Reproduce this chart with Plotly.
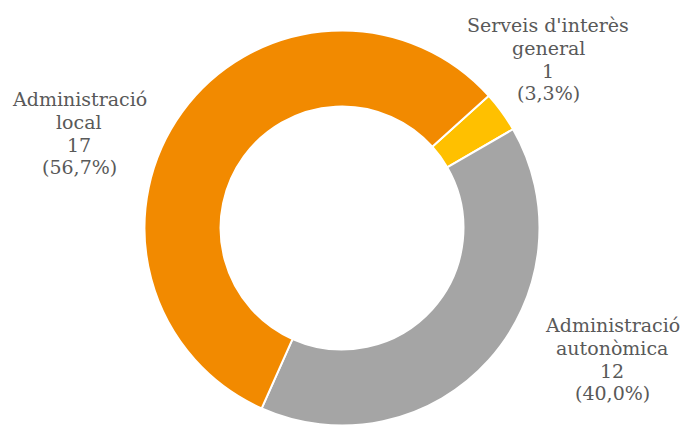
import plotly.graph_objects as go

categories = ["Serveis d'interès general", "Administració autonòmica", "Administració local"]
label_lines = [["Serveis d'interès", "general"], ["Administració", "autonòmica"], ["Administració", "local"]]
values = [1, 12, 17]
colors = ["#FFC000", "#A5A5A5", "#F28A00"]

total = sum(values)
W, H = 683, 426


def px_x(x):
    return x / W


def px_y(y):
    return 1 - y / H


cx, cy, R = 342, 228, 197.5
fig = go.Figure(go.Pie(
    labels=categories,
    values=values,
    sort=False,
    direction="clockwise",
    rotation=48,
    hole=0.615,
    marker=dict(colors=colors, line=dict(color="white", width=2)),
    textinfo="none",
    hoverinfo="label+value+percent",
    domain=dict(x=[px_x(cx - R), px_x(cx + R)], y=[max(0, px_y(cy + R)), px_y(cy - R)]),
    showlegend=False,
))

# label anchor positions (pixels: center-x, first baseline)
label_pos = [(548, 31), (612, 331), (79, 105)]
LINE = 22.7
FS = 19
for lines, v, (px, py) in zip(label_lines, values, label_pos):
    pct = f"({v / total * 100:.1f}%)".replace(".", ",")
    all_lines = lines + [str(v), pct]
    for i, t in enumerate(all_lines):
        base = py + i * LINE
        fig.add_annotation(
            text=t, x=px_x(px), y=px_y(base - 0.3 * FS), xref="paper", yref="paper",
            xanchor="center", yanchor="middle", showarrow=False, align="center",
            font=dict(family="DejaVu Serif", size=FS, color="#595959"),
        )

fig.update_layout(
    width=W, height=H,
    margin=dict(l=0, r=0, t=0, b=0),
    paper_bgcolor="white", plot_bgcolor="white",
)

fig.write_html(
    "out.html",
    config={"displayModeBar": False},
    post_script="document.body.style.margin='0';document.body.style.overflow='hidden';",
)
